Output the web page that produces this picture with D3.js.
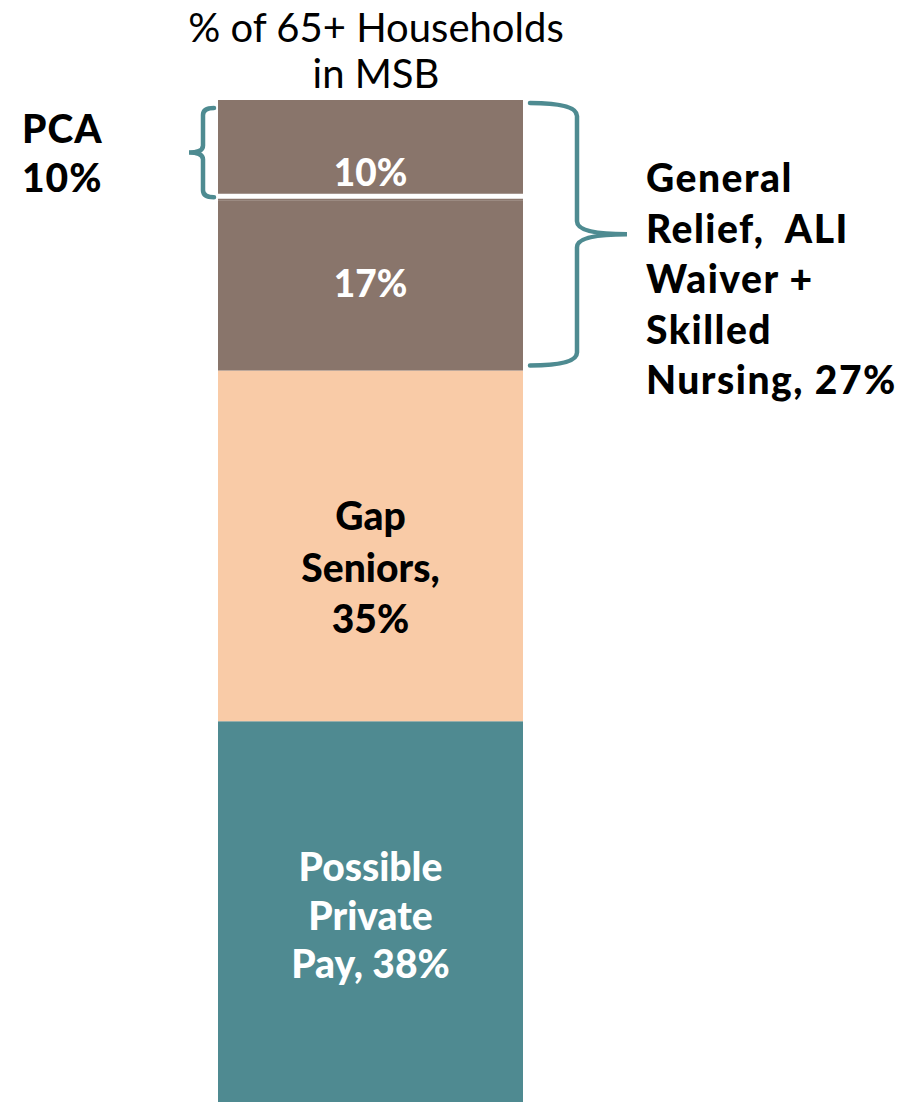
<!DOCTYPE html>
<html lang="en">
<head>
	<meta charset="utf-8">
	<script src="https://cdn.jsdelivr.net/npm/d3@7"></script>
	<style>
		body{ margin:0; background:white; }
		text{ font-family: Lato, "Open Sans", sans-serif; }
		.brace{ fill:none; stroke:#4e8b91; stroke-width:4.5px; stroke-linecap:round; }
	</style>
</head>
<body>
	<script>
		var width = 912, height = 1102;

		// stacked from the bottom up
		var segments = ["Possible Private Pay", "Gap Seniors", "General Relief, ALI Waiver + Skilled Nursing", "PCA"];
		var values = [38, 35, 17, 10];
		var colors = ["#4f8a91", "#f9cba7", "#89756b", "#89756b"];
		var segLabels = [["Possible", "Private", "Pay, 38%"], ["Gap", "Seniors,", "35%"], ["17%"], ["10%"]];
		var labelColors = ["white", "black", "white", "white"];
		var titleLines = ["% of 65+ Households", "in MSB"];
		var pcaLabel = ["PCA", "10%"];
		var groupLabel = ["General", "Relief,  ALI", "Waiver +", "Skilled", "Nursing, 27%"];

		// per-segment label tweaks (shift of middle baseline from segment centre, line height)
		var labelShift = [18, 36, 12, 36];
		var labelLineH = [48.5, 51.5, 50, 50];

		var svg = d3.select("body").append("svg")
			.attr("width", width)
			.attr("height", height);

		var x = d3.scaleBand().domain(["MSB"]).range([218, 523]).padding(0);
		var y = d3.scaleLinear().domain([0, 100]).range([height, 100]);

		var stackData = [];
		var acc = 0;
		values.forEach(function(v, i){
			stackData.push({name: segments[i], y0: acc, y1: acc + v, color: colors[i], lines: segLabels[i], lc: labelColors[i], i: i});
			acc += v;
		});

		svg.append("g").selectAll("rect")
			.data(stackData).enter()
			.append("rect")
			.attr("x", x("MSB"))
			.attr("width", x.bandwidth())
			.attr("y", function(d){ return y(d.y1); })
			.attr("height", function(d){ return y(d.y0) - y(d.y1); })
			.attr("fill", function(d){ return d.color; });

		// white divider between PCA and the 17% block
		svg.append("line")
			.attr("x1", x("MSB")).attr("x2", x("MSB") + x.bandwidth())
			.attr("y1", y(90) - 4).attr("y2", y(90) - 4)
			.attr("stroke", "white").attr("stroke-width", 5);

		// labels inside the bar
		stackData.forEach(function(d){
			var cy = (y(d.y0) + y(d.y1)) / 2;
			var n = d.lines.length;
			var t = svg.append("text")
				.attr("text-anchor", "middle")
				.attr("font-size", n > 1 ? 39 : 37)
				.attr("font-weight", 900)
				.attr("fill", d.lc);
			d.lines.forEach(function(s, k){
				t.append("tspan")
					.attr("x", x("MSB") + x.bandwidth() / 2)
					.attr("y", cy + (k - (n - 1) / 2) * labelLineH[d.i] + labelShift[d.i])
					.text(s);
			});
		});

		// title
		var title = svg.append("text")
			.attr("text-anchor", "middle")
			.attr("font-size", 40)
			.attr("fill", "black");
		titleLines.forEach(function(s, k){
			title.append("tspan").attr("x", 376).attr("y", 42 + k * 46).text(s);
		});

		// left-side PCA label
		var pca = svg.append("text").attr("font-size", 39).attr("font-weight", 900)
			.attr("letter-spacing", 1);
		pcaLabel.forEach(function(s, k){
			pca.append("tspan").attr("x", 22).attr("y", 143 + k * 49).text(s);
		});

		// right-side group label
		var grp = svg.append("text").attr("font-size", 39).attr("font-weight", 900)
			.attr("letter-spacing", 1.5);
		groupLabel.forEach(function(s, k){
			grp.append("tspan").attr("x", 646).attr("y", 192 + k * 50.5).attr("xml:space", "preserve").text(s);
		});

		function brace(x0, xv, xt, ya, yb, r){
			var ym = (ya + yb) / 2;
			var p = d3.path();
			p.moveTo(x0, ya);
			p.quadraticCurveTo(xv, ya, xv, ya + r);
			p.lineTo(xv, ym - r);
			p.quadraticCurveTo(xv, ym, xt, ym);
			p.quadraticCurveTo(xv, ym, xv, ym + r);
			p.lineTo(xv, yb - r);
			p.quadraticCurveTo(xv, yb, x0, yb);
			return p.toString();
		}

		svg.append("path").attr("class", "brace")
			.attr("d", brace(x("MSB") - 4, 203, 189, y(100) + 8, y(90) - 3, 7));
		svg.append("path").attr("class", "brace")
			.attr("d", brace(x("MSB") + x.bandwidth() + 7, 577, 627, y(100) + 3, y(73) - 5, 13));
	</script>
</body>
</html>
